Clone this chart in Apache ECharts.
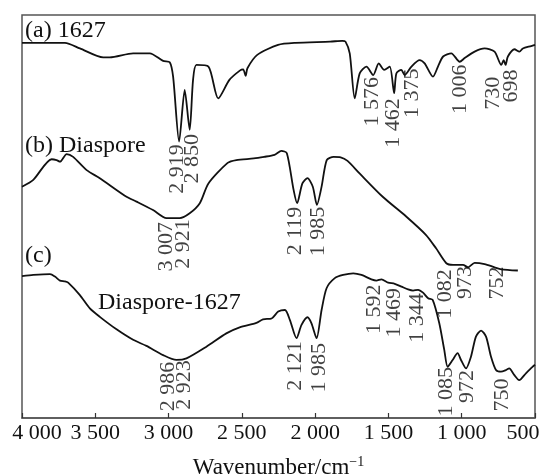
<!DOCTYPE html>
<html>
<head>
<meta charset="utf-8">
<script src="https://cdn.jsdelivr.net/npm/echarts@6/dist/echarts.min.js"></script>
<style>
  html, body { margin: 0; padding: 0; background: #fff; }
  #main { width: 544px; height: 474px; }
</style>
</head>
<body>
<div id="main"></div>
<script>
// (a) 1627
var waveA = [4000,3707,3605,3446,3401,3242,3128,3037,2992,2969,2928,2890,2856,2833,2810,2728,2661,2585,2514,2491,2474,2462,2395,2253,2134,1897,1815,1793,1764,1730,1696,1650,1604,1566,1529,1491,1461,1446,1412,1389,1343,1287,1253,1196,1162,1127,1071,1014,980,912,844,776,730,714,701,685,640,606,583,526,500];
var transA = [93.1,93.1,91.7,89.5,89.5,90.5,90.5,88.6,88.3,84.7,68.6,81.4,71.5,83.9,87.6,87.2,79.3,83.9,86.2,86.5,84.9,86.8,90.1,92.6,93.1,93.4,93.6,93.4,90.5,79.3,85.5,87.2,85.1,88.0,86.4,87.2,80.6,85.5,86.4,85.1,87.2,88.8,88.0,84.7,87.2,89.7,90.5,88.4,89.3,90.9,91.7,90.9,87.6,88.8,87.6,89.7,91.5,90.9,91.7,92.3,92.6];
// (b) Diaspore
var waveB = [4000,3923,3798,3764,3741,3695,3651,3559,3469,3287,3219,3106,3014,2924,2856,2787,2728,2597,2538,2419,2348,2277,2230,2193,2147,2123,2087,2052,2016,1988,1956,1921,1874,1826,1779,1697,1539,1379,1243,1175,1105,1059,991,957,912,844,776,730,617];
var transB = [57.4,59.1,64.2,64.0,63.6,65.5,64.8,61.5,59.5,54.9,53.7,51.6,49.6,49.6,50.8,53.3,58.2,63.3,64.0,64.4,64.8,65.3,66.3,65.7,56.6,53.3,58.2,59.5,57.4,52.9,57.4,64.0,64.8,64.7,63.8,60.7,54.9,50.0,45.4,42.1,38.4,38.0,38.0,37.4,38.5,38.2,37.4,36.9,36.6];
// (c) Diaspore-1627
var waveC = [4000,3923,3809,3775,3741,3707,3685,3605,3537,3469,3355,3242,3151,3037,2946,2878,2742,2606,2515,2401,2356,2297,2252,2206,2172,2127,2093,2052,2025,1990,1956,1922,1866,1809,1740,1684,1616,1582,1548,1502,1457,1411,1366,1332,1298,1264,1229,1198,1153,1119,1096,1062,1028,1005,971,937,903,868,834,800,766,732,698,676,642,608,562,517,500];
var transC = [35.2,35.5,35.7,35.1,34.1,33.9,33.6,30.5,27.2,25.1,22.0,19.4,17.9,15.6,14.4,14.8,17.7,21.0,22.5,23.6,24.5,24.7,26.4,26.8,24.3,19.8,23.1,25.0,23.5,19.8,26.8,32.2,34.7,35.5,35.9,35.5,34.4,34.1,34.4,33.6,33.3,32.6,31.9,31.6,31.8,31.1,29.7,29.3,23.5,16.9,12.7,14.4,16.1,14.4,12.3,15.2,20.2,21.7,20.2,15.2,11.9,11.5,11.9,12.3,10.7,9.4,11.1,12.7,13.2];

// peak annotations (text centre)
var peakLabels = ['2 919','2 850','1 576','1 462','1 375','1 006','730','698','3 007','2 921','2 119','1 985','1 082','973','752','1 592','1 469','1 344','2 121','1 985','2 986','2 923','1 085','972','750'];
var peakWave = [2944,2842,1612,1466,1340,1009,785,662,3016,2903,2134,1977,1112,975,761,1595,1462,1302,2134,1970,3005,2890,1108,965,727];
var peakPos = [61.8,64.3,78.5,73.2,80.6,81.6,80.6,82.4,42.5,43.2,46.4,46.3,30.8,33.6,33.5,27.0,26.1,24.8,12.9,12.5,7.8,8.2,6.5,7.8,5.7];

var xTicks = [500,1000,1500,2000,2500,3000,3500,4000];

var serif = '"Liberation Serif", "Times New Roman", serif';

function pairs(xs, ys) {
  var out = [];
  for (var i = 0; i < xs.length; i++) out.push([xs[i], ys[i]]);
  return out;
}

function fmtTick(v) {
  if (v >= 1000) {
    var r = String(v % 1000);
    while (r.length < 3) r = '0' + r;
    return Math.floor(v / 1000) + ' ' + r;
  }
  return String(v);
}

var peakData = [];
for (var i = 0; i < peakLabels.length; i++) {
  peakData.push([peakWave[i], peakPos[i], peakLabels[i]]);
}

function lineSeries(name, xs, ys) {
  return {
    name: name,
    type: 'line',
    data: pairs(xs, ys),
    showSymbol: false,
    symbol: 'none',
    smooth: 0.25,
    lineStyle: { color: '#111', width: 1.8 },
    silent: true,
    animation: false
  };
}

var chart = echarts.init(document.getElementById('main'));
var option = {
  backgroundColor: '#fff',
  animation: false,
  grid: {
    left: 22, right: 9, top: 15, bottom: 56,
    containLabel: false,
    outerBoundsMode: 'none',
    show: true, borderColor: '#555', borderWidth: 1.5
  },
  xAxis: {
    type: 'value',
    inverse: true,
    min: 500, max: 4000, interval: 500,
    name: '{n|Wavenumber/cm}{s|\u22121}',
    nameLocation: 'middle',
    nameGap: 37,
    nameTextStyle: {
      rich: {
        n: { fontFamily: serif, fontSize: 23, color: '#111' },
        s: { fontFamily: serif, fontSize: 14, color: '#111', padding: [0, 0, 12, 0] }
      }
    },
    axisLine: { show: true, lineStyle: { color: '#555', width: 1.5 } },
    axisTick: { show: true, inside: true, length: 5, lineStyle: { color: '#333', width: 1.2 } },
    axisLabel: {
      margin: 4,
      fontFamily: serif, fontSize: 22, color: '#111',
      formatter: function (v) {
        if (xTicks.indexOf(v) < 0) return '';
        // end labels sit pulled inward, as in the figure
        if (v === 4000) return '{l|' + fmtTick(v) + '}';
        if (v === 500) return '{r|' + fmtTick(v) + '}';
        return fmtTick(v);
      },
      rich: {
        l: { fontFamily: serif, fontSize: 22, color: '#111', padding: [0, 0, 0, 30] },
        r: { fontFamily: serif, fontSize: 22, color: '#111', padding: [0, 24, 0, 0] }
      }
    },
    splitLine: { show: false }
  },
  yAxis: {
    type: 'value',
    min: 0, max: 100,
    show: false,
    splitLine: { show: false }
  },
  series: [
    lineSeries('1627', waveA, transA),
    lineSeries('Diaspore', waveB, transB),
    lineSeries('Diaspore-1627', waveC, transC),
    {
      type: 'scatter',
      data: peakData,
      symbolSize: 0,
      silent: true,
      label: {
        show: true,
        position: 'inside',
        rotate: 90,
        formatter: function (p) { return p.value[2]; },
        fontFamily: serif, fontSize: 22, color: '#111'
      }
    }
  ],
  graphic: [
    { type: 'text', x: 25, y: 31, style: { text: '(a) 1627', font: '24px ' + serif, fill: '#111', verticalAlign: 'middle' } },
    { type: 'text', x: 25, y: 146, style: { text: '(b) Diaspore', font: '24px ' + serif, fill: '#111', verticalAlign: 'middle' } },
    { type: 'text', x: 25, y: 256, style: { text: '(c)', font: '24px ' + serif, fill: '#111', verticalAlign: 'middle' } },
    { type: 'text', x: 98, y: 303, style: { text: 'Diaspore-1627', font: '24px ' + serif, fill: '#111', verticalAlign: 'middle' } }
  ]
};
option && chart.setOption(option);
</script>
</body>
</html>
